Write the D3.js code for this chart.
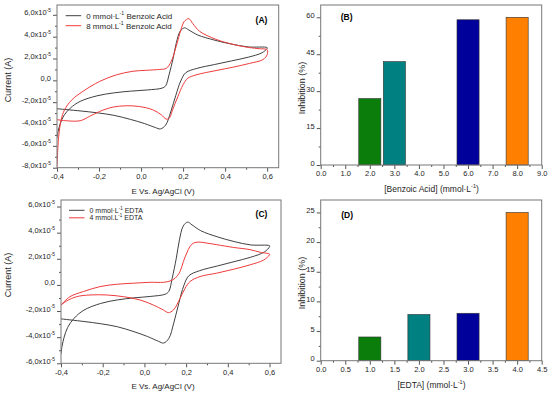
<!DOCTYPE html>
<html>
<head>
<meta charset="utf-8">
<script src="https://cdn.jsdelivr.net/npm/d3@7"></script>
<style>
  body { margin: 0; background: #fff; }
  svg { display: block; font-family: "Liberation Sans", Arial, sans-serif; }
</style>
</head>
<body>
<div id="fig"></div>
<script>
// ---- data: [potential (V), current (x1e-5 A)] ----
// 0 mmol/L blank, full cycle (forward then reverse)
const blankScan = [
  [-0.40,-2.60],[-0.29,-2.80],[-0.21,-2.97],[-0.13,-3.20],[-0.05,-3.58],[0.015,-3.95],
  [0.068,-4.32],[0.092,-4.45],[0.117,-4.10],[0.141,-2.90],[0.165,-1.40],[0.189,-0.05],
  [0.213,0.70],[0.265,1.09],[0.35,1.45],[0.43,1.78],[0.51,2.12],[0.575,2.52],[0.60,2.92],
  [0.60,3.00],[0.51,3.06],[0.43,3.32],[0.35,3.68],[0.27,4.15],[0.228,4.60],[0.207,4.81],
  [0.186,4.50],[0.168,3.45],[0.153,2.05],[0.133,0.50],[0.117,-0.50],[0.10,-0.71],
  [0.03,-0.88],[-0.05,-0.99],[-0.13,-1.15],[-0.21,-1.42],[-0.29,-1.93],[-0.337,-2.55],
  [-0.368,-3.25],[-0.385,-4.00],[-0.395,-4.70],[-0.40,-5.30]
];
// 8 mmol/L benzoic acid
const benzoicScan = [
  [-0.40,-3.60],[-0.356,-3.70],[-0.29,-3.70],[-0.245,-3.30],[-0.197,-2.85],[-0.134,-2.45],
  [-0.07,-2.33],[-0.007,-2.40],[0.056,-2.70],[0.096,-3.15],[0.12,-3.55],[0.135,-3.45],
  [0.15,-2.70],[0.175,-1.50],[0.20,-0.40],[0.223,0.20],[0.262,0.50],[0.357,0.90],
  [0.437,1.20],[0.516,1.55],[0.58,1.90],[0.60,2.35],
  [0.60,2.80],[0.563,2.90],[0.516,3.00],[0.437,3.30],[0.357,3.75],[0.278,4.50],
  [0.246,5.20],[0.227,5.65],[0.206,5.40],[0.19,4.65],[0.167,3.10],[0.144,1.75],
  [0.12,1.10],[0.089,1.00],[0.025,0.92],[-0.039,0.83],[-0.118,0.50],[-0.197,-0.10],
  [-0.276,-1.00],[-0.33,-1.80],[-0.364,-2.70],[-0.38,-3.60],[-0.392,-5.15],[-0.40,-7.90]
];
// 4 mmol/L EDTA
const edtaScan = [
  [-0.40,-1.54],[-0.373,-1.23],[-0.325,-0.90],[-0.261,-0.77],[-0.181,-0.77],[-0.101,-0.90],
  [-0.021,-1.15],[0.043,-1.54],[0.091,-1.92],[0.115,-2.12],[0.139,-1.92],[0.171,-1.03],
  [0.195,-0.26],[0.219,0.26],[0.267,0.64],[0.347,0.90],[0.427,1.20],[0.507,1.54],
  [0.571,1.90],[0.60,2.30],
  [0.60,2.36],[0.555,2.50],[0.507,2.70],[0.427,2.87],[0.347,3.08],[0.30,3.20],[0.262,3.28],
  [0.235,3.20],[0.219,2.95],[0.203,2.44],[0.187,1.80],[0.171,1.03],[0.147,0.51],
  [0.123,0.30],[0.091,0.20],[0.027,0.20],[-0.053,0.13],[-0.133,0.05],[-0.213,-0.13],
  [-0.293,-0.51],[-0.357,-0.90],[-0.40,-1.54]
];

const benzoicConc = [2, 3, 6, 8];
const benzoicInhibition = [27, 42, 59, 60];
const edtaConc = [1, 2, 3, 4];
const edtaInhibition = [4, 7.8, 8, 25];

// tick values
const potentialTicks = [-0.4, -0.2, 0, 0.2, 0.4, 0.6];
const currentTicksA = [-8, -6, -4, -2, 0, 2, 4, 6];
const currentTicksC = [-6, -4, -2, 0, 2, 4, 6];
const benzoicTicks = [0, 1, 2, 3, 4, 5, 6, 7, 8, 9];
const inhibitionTicksB = [0, 15, 30, 45, 60];
const edtaTicks = [0, 0.5, 1, 1.5, 2, 2.5, 3, 3.5, 4, 4.5];
const inhibitionTicksD = [0, 5, 10, 15, 20, 25];

const barColors = ["#0b7d0b", "#008080", "#00009a", "#ff8000"];
const scanColors = ["#404040", "#ee3b3b"];

const svg = d3.select("#fig")
  .append("svg")
    .attr("width", 550)
    .attr("height", 393);

// text with ^{..} superscripts
function richText(text, str, size) {
  const lift = size * 0.42;
  let raised = false;
  text.text(null);
  str.split(/\^\{([^}]*)\}/).forEach((part, i) => {
    if (i % 2 === 1) {
      text.append("tspan").attr("dy", -lift).attr("font-size", size * 0.65).text(part);
      raised = true;
    } else if (part) {
      text.append("tspan").attr("dy", raised ? lift : 0).text(part);
      raised = false;
    }
  });
}

const midTicks = (ticks) => ticks.slice(1).map((t, i) => (t + ticks[i]) / 2);

function frame(g, w, h, x, y, xTicks, yTicks, xFmt, yFmt, size) {
  // minor ticks first
  g.append("g")
    .attr("transform", `translate(0, ${h})`)
    .call(d3.axisBottom(x).tickValues(midTicks(xTicks)).tickSize(2).tickFormat(""))
    .call(a => a.select(".domain").remove());
  g.append("g")
    .call(d3.axisLeft(y).tickValues(midTicks(yTicks)).tickSize(2).tickFormat(""))
    .call(a => a.select(".domain").remove());

  const bottom = g.append("g")
    .attr("transform", `translate(0, ${h})`)
    .call(d3.axisBottom(x).tickValues(xTicks).tickSize(4).tickPadding(2).tickFormat(xFmt));
  const left = g.append("g")
    .call(d3.axisLeft(y).tickValues(yTicks).tickSize(4).tickPadding(2));
  left.selectAll(".tick text").each(function(d) { richText(d3.select(this), yFmt(d), size); });

  g.selectAll(".domain").remove();
  g.selectAll(".tick line").attr("stroke", "#555");
  g.selectAll(".tick text").attr("fill", "#1e1e1e").attr("font-size", size).attr("font-family", null);

  g.append("rect")
    .attr("width", w)
    .attr("height", h)
    .attr("fill", "none")
    .attr("stroke", "#777")
    .attr("stroke-width", 1);
}

const commaFmt = d => d.toFixed(1).replace(".", ",");
const currentFmt = d => d === 0 ? "0,0" : `${commaFmt(d)}x10^{-5}`;

function drawCV(box, scans, labels, legend, tag) {
  const w = box.right - box.left, h = box.bottom - box.top;
  const x = d3.scaleLinear().domain([-0.4, 0.655]).range([0, w]);
  const y = d3.scaleLinear().domain(box.yDomain).range([h, 0]);
  const g = svg.append("g").attr("transform", `translate(${box.left}, ${box.top})`);

  const clipId = `clip-${tag}`;
  g.append("clipPath").attr("id", clipId)
    .append("rect").attr("width", w).attr("height", h);

  const line = d3.line()
    .x(d => x(d[0]))
    .y(d => y(d[1]))
    .curve(d3.curveCatmullRom.alpha(0.5));

  g.append("g")
    .attr("clip-path", `url(#${clipId})`)
    .selectAll("path")
    .data(scans)
    .join("path")
      .attr("d", line)
      .attr("fill", "none")
      .attr("stroke", (d, i) => scanColors[i])
      .attr("stroke-width", 1);

  frame(g, w, h, x, y, potentialTicks, box.yTicks, commaFmt, currentFmt, 7.5);

  // legend
  labels.forEach((label, i) => {
    const ly = legend.y + i * legend.gap;
    g.append("line")
      .attr("x1", legend.x).attr("x2", legend.x + 15.5)
      .attr("y1", ly).attr("y2", ly)
      .attr("stroke", scanColors[i]).attr("stroke-width", 1);
    const t = g.append("text")
      .attr("x", legend.x + 20.5)
      .attr("y", ly + legend.size * 0.35)
      .attr("font-size", legend.size)
      .attr("fill", "#1e1e1e");
    richText(t, label, legend.size);
  });

  g.append("text")
    .attr("x", box.tagX).attr("y", box.tagY)
    .attr("text-anchor", "middle")
    .attr("font-weight", "bold")
    .attr("font-size", 8.5)
    .text(`(${tag})`);

  svg.append("text")
    .attr("x", 163).attr("y", box.bottom + 26)
    .attr("text-anchor", "middle")
    .attr("font-size", 8)
    .attr("fill", "#1e1e1e")
    .text("E Vs. Ag/AgCl (V)");
  svg.append("text")
    .attr("transform", `translate(10.5, ${box.top + 75}) rotate(-90)`)
    .attr("text-anchor", "middle")
    .attr("font-size", 9)
    .attr("fill", "#1e1e1e")
    .text("Current (A)");
}

function drawBars(box, conc, values, tag, xTitle) {
  const w = box.right - box.left, h = box.bottom - box.top;
  const x = d3.scaleLinear().domain(box.xDomain).range([0, w]);
  const y = d3.scaleLinear().domain(box.yDomain).range([h, 0]);
  const g = svg.append("g").attr("transform", `translate(${box.left}, ${box.top})`);

  g.selectAll("rect.bar")
    .data(conc)
    .join("rect")
      .attr("class", "bar")
      .attr("x", d => x(d - box.barWidth / 2))
      .attr("width", x(box.barWidth) - x(0))
      .attr("y", (d, i) => y(values[i]))
      .attr("height", (d, i) => y(0) - y(values[i]))
      .attr("fill", (d, i) => barColors[i])
      .attr("stroke", "#333")
      .attr("stroke-width", 0.6);

  frame(g, w, h, x, y, box.xTicks, box.yTicks, d3.format(".1f"), d => String(d), 7.5);

  g.append("text")
    .attr("x", box.tagX).attr("y", box.tagY)
    .attr("text-anchor", "middle")
    .attr("font-weight", "bold")
    .attr("font-size", 8.5)
    .text(`(${tag})`);

  const t = svg.append("text")
    .attr("x", 431.5).attr("y", box.bottom + 27)
    .attr("text-anchor", "middle")
    .attr("font-size", 8.5)
    .attr("fill", "#1e1e1e");
  richText(t, xTitle, 8.5);
  svg.append("text")
    .attr("transform", `translate(305, ${box.top + 83}) rotate(-90)`)
    .attr("text-anchor", "middle")
    .attr("font-size", 9)
    .attr("fill", "#1e1e1e")
    .text("Inhibition (%)");
}

drawCV(
  { left: 57, right: 278.7, top: 5, bottom: 167.7, yDomain: [-8, 6.9], yTicks: currentTicksA, tagX: 204.5, tagY: 17.5 },
  [blankScan, benzoicScan],
  ["0 mmol·L^{-1} Benzoic Acid", "8 mmol.L^{-1} Benzoic Acid"],
  { x: 8.7, y: 10.7, gap: 10, size: 8 },
  "A"
);

drawCV(
  { left: 61, right: 281, top: 200, bottom: 363.3, yDomain: [-6, 6.5], yTicks: currentTicksC, tagX: 200.5, tagY: 17 },
  [blankScan, edtaScan],
  ["0 mmol·L^{-1} EDTA", "4 mmol.L^{-1} EDTA"],
  { x: 8, y: 10.3, gap: 7.5, size: 7 },
  "C"
);

drawBars(
  { left: 320.7, right: 541.7, top: 5, bottom: 165, xDomain: [0, 9], yDomain: [0, 65],
    xTicks: benzoicTicks, yTicks: inhibitionTicksB, barWidth: 0.9, tagX: 26, tagY: 15 },
  benzoicConc, benzoicInhibition, "B", "[Benzoic Acid] (mmol·L^{-1})"
);

drawBars(
  { left: 320.7, right: 541.7, top: 200, bottom: 360.7, xDomain: [0, 4.5], yDomain: [0, 27.1],
    xTicks: edtaTicks, yTicks: inhibitionTicksD, barWidth: 0.45, tagX: 26.5, tagY: 18 },
  edtaConc, edtaInhibition, "D", "[EDTA] (mmol·L^{-1})"
);
</script>
</body>
</html>
